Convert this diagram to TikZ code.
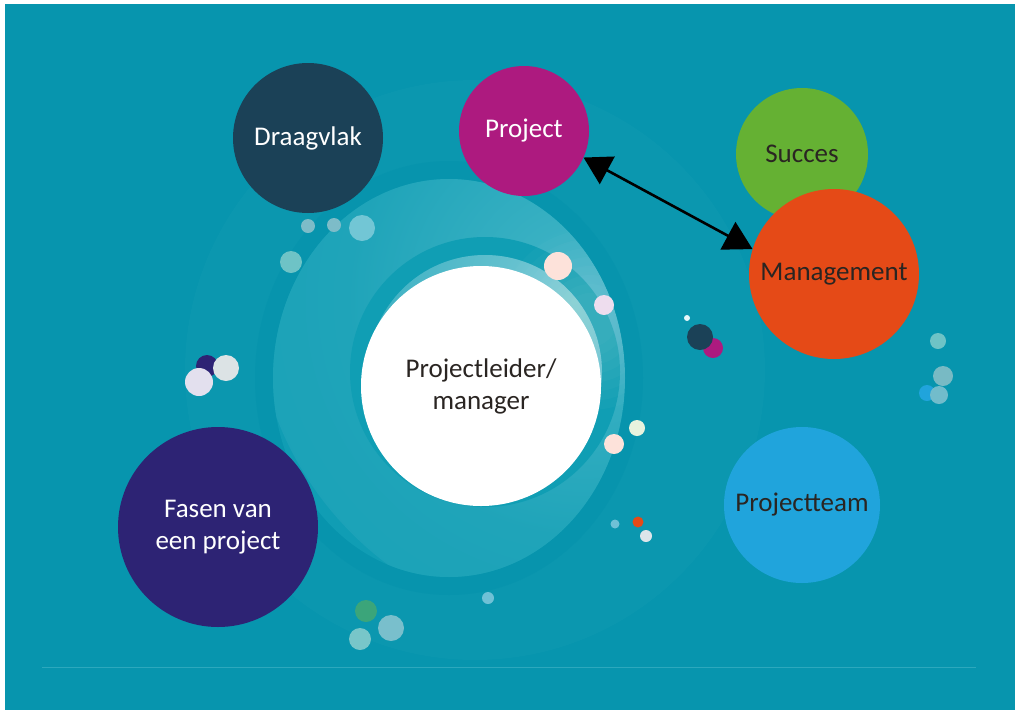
\documentclass[tikz,border=0pt]{standalone}
\usepackage{fontspec}
\setmainfont{Carlito}
\usetikzlibrary{arrows.meta}
\definecolor{bg}{HTML}{0795AE}
\definecolor{ringdark}{HTML}{0794AD}
\definecolor{gloA}{HTML}{44B6C7}
\definecolor{gloM}{HTML}{1FA4B9}
\definecolor{gloB}{HTML}{109DB4}
\definecolor{ringin}{HTML}{109EB4}
\definecolor{gliA}{HTML}{7ACAD5}
\definecolor{gliM}{HTML}{40B2C4}
\definecolor{gliB}{HTML}{22A5BA}
\definecolor{draag}{HTML}{1B4157}
\definecolor{proj}{HTML}{AD1A7F}
\definecolor{succ}{HTML}{65B133}
\definecolor{mgmt}{HTML}{E54A17}
\definecolor{fasen}{HTML}{2D2374}
\definecolor{team}{HTML}{20A4DC}
\definecolor{txtdark}{HTML}{2A2522}
\definecolor{linecol}{HTML}{2CA8BD}
\definecolor{dA}{HTML}{7DBCC8}
\definecolor{dB}{HTML}{72C6D5}
\definecolor{dC}{HTML}{6EC3C6}
\definecolor{dD}{HTML}{DCE3E5}
\definecolor{dE}{HTML}{E3E0EE}
\definecolor{peach}{HTML}{FDE2DA}
\definecolor{lav}{HTML}{EEDDEE}
\definecolor{lgreen}{HTML}{E8F3DE}
\definecolor{lgrey}{HTML}{DDE5EA}
\definecolor{dF}{HTML}{6FC1D6}
\definecolor{dG}{HTML}{78BAC4}
\definecolor{dH}{HTML}{72BCCB}
\definecolor{dgreen}{HTML}{3BA57A}
\definecolor{dI}{HTML}{79BFCC}
\definecolor{dJ}{HTML}{78C6C9}
\definecolor{tinyw}{HTML}{E6F6FA}
\pgfdeclareradialshading{glowout}{\pgfpoint{0bp}{0bp}}{color(0bp)=(gloA); color(18bp)=(gloM); color(50bp)=(gloB)}
\pgfdeclareradialshading{glowin}{\pgfpoint{0bp}{0bp}}{color(0bp)=(gliA); color(22bp)=(gliM); color(50bp)=(gliB)}
\begin{document}
\begin{tikzpicture}[x=1pt,y=-1pt,
  bubble/.style={circle, inner sep=0pt, align=center, font=\fontsize{27}{32}\selectfont},
  arrowline/.style={line width=2.6pt, {Triangle[length=27pt,width=31pt]}-{Triangle[length=28pt,width=31pt]}}]
\useasboundingbox (0,0) rectangle (1015,710);
\fill[white] (0,0) rectangle (1015,710);
\fill[bg] (5,4) rectangle (1015,710);
% background glow and rings
\fill[white, opacity=0.018] (475,370) circle (290pt);
\fill[ringdark] (449,378) ellipse [x radius=194pt, y radius=217pt];
\begin{scope}
  \clip (449,378) ellipse [x radius=176pt, y radius=199pt];
  \fill[gloB] (449,378) ellipse [x radius=176pt, y radius=199pt];
  \shade[shading=glowout] (585,300) circle (330pt);
\end{scope}
\fill[ringin] (485,372) circle (135pt);
\begin{scope}
  \clip (485,372) circle (117pt);
  \fill[gliB] (485,372) circle (117pt);
  \shade[shading=glowin] (575,300) circle (220pt);
\end{scope}
% soft glow over the right side of the inner ring
\begin{scope}
  \clip (449,378) ellipse [x radius=176pt, y radius=199pt];
  \foreach \gr in {90,81,72,63,54,45,36,27}
    \fill[white, opacity=0.025] (590,320) circle (\gr pt);
\end{scope}
% bottom line
\draw[linecol, line width=0.8pt] (42,667) -- (976,667);
% small dots
\foreach \x/\y/\r/\c in {308/226/7/dA, 334/225/7/dA, 362/228/13/dB, 291/262/11/dC,
  207/366/11/fasen, 226/368/13/dD, 199/382/14/dE,
  558/266/14/peach, 604/305/10/lav, 637/428/8/lgreen, 614/444/10/peach,
  615/524/4.5/dF, 638/522/5.5/mgmt, 646/536/6/lgrey, 488/598/6/dF,
  687/318/3/tinyw, 713/348/10/proj, 700/337/13/draag,
  938/341/8/dC, 943/376/10/dG, 927/393/8/team, 939/395/9/dH,
  366/611/11/dgreen, 391/628/13/dI, 360/639/11/dJ}
  \fill[\c] (\x,\y) circle (\r pt);
% main circles
\node[bubble, fill=draag, minimum size=150pt, text=white] (draagvlak) at (308,138) {Draagvlak};
\node[bubble, fill=proj, minimum size=130pt, text=white] (project) at (524,131) {Project};
\node[bubble, fill=succ, minimum size=132pt, text=txtdark] (succes) at (802,154) {Succes};
\node[bubble, fill=mgmt, minimum size=170pt, text=txtdark] (management) at (834,274) {Management};
\node[bubble, fill=white, minimum size=240pt, text=txtdark] (leider) at (481,386) {Projectleider/\\manager};
\node[bubble, fill=fasen, minimum size=200pt, text=white] (fasen) at (218,527) {Fasen van\\een project};
\node[bubble, fill=team, minimum size=156pt, text=txtdark] (team) at (802,505) {Projectteam};
% arrow
\draw[arrowline] (project.-24) -- (management.163);
\end{tikzpicture}
\end{document}
